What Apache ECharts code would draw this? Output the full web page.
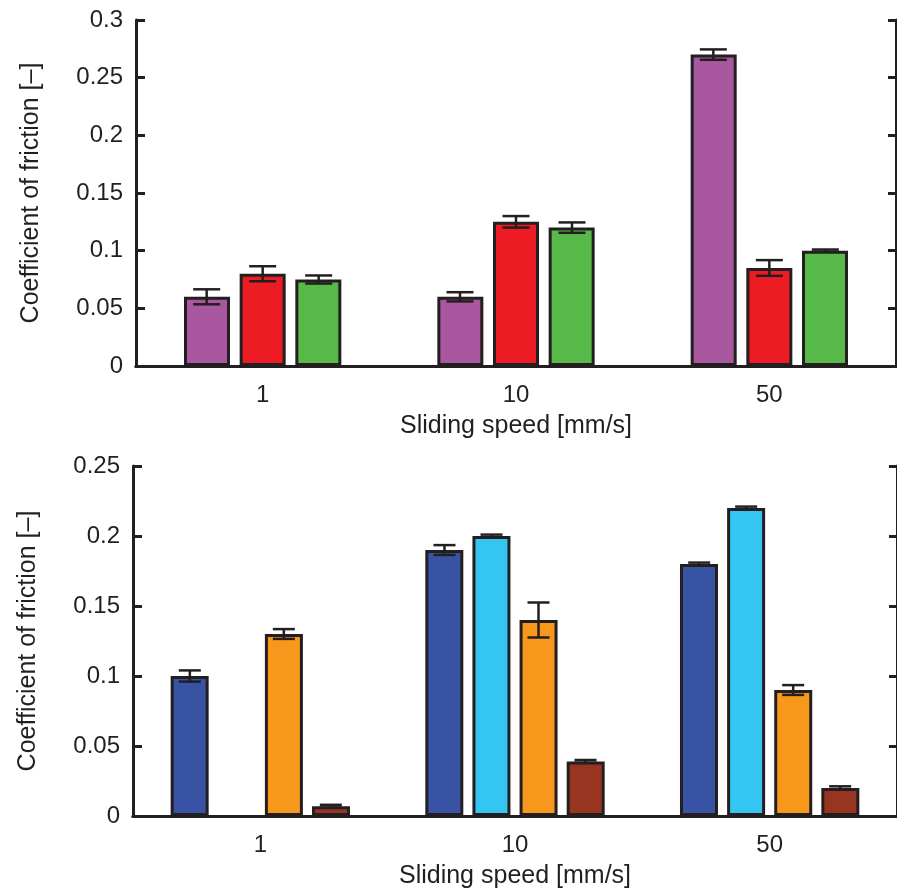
<!DOCTYPE html>
<html>
<head>
<meta charset="utf-8">
<script src="https://cdn.jsdelivr.net/npm/echarts@6/dist/echarts.min.js"></script>
<style>
  html, body { margin: 0; padding: 0; background: #fff; }
  #chart { width: 897px; height: 894px; }
</style>
</head>
<body>
<div id="chart"></div>
<script>
// speeds on the x axis, shared by both panels
const speeds = ['1', '10', '50'];

// upper panel: three materials
const topPurple = [0.06, 0.06, 0.27];
const topRed = [0.08, 0.125, 0.085];
const topGreen = [0.075, 0.12, 0.1];
const topPurpleErr = [0.0065, 0.004, 0.0045];
const topRedErr = [0.0065, 0.005, 0.0068];
const topGreenErr = [0.0035, 0.0045, 0.001];

// lower panel: four materials (light blue missing at 1 mm/s)
const lowBlue = [0.1, 0.19, 0.18];
const lowCyan = [null, 0.2, 0.22];
const lowOrange = [0.13, 0.14, 0.09];
const lowBrown = [0.007, 0.039, 0.02];
const lowBlueErr = [0.004, 0.0035, 0.001];
const lowCyanErr = [null, 0.001, 0.001];
const lowOrangeErr = [0.0035, 0.0125, 0.0035];
const lowBrownErr = [0.001, 0.001, 0.0012];

const ink = '#231f20';
const font = '"Liberation Sans", Arial, sans-serif';

function errorSeries(values, errs, slot, count, step, capHalf, axisIdx) {
  const data = [];
  values.forEach((v, i) => {
    if (v == null || errs[i] == null) return;
    data.push([i, v - errs[i], v + errs[i]]);
  });
  const offset = (slot - (count - 1) / 2) * step;
  return {
    type: 'custom',
    xAxisIndex: axisIdx,
    yAxisIndex: axisIdx,
    z: 5,
    silent: true,
    data,
    renderItem(params, api) {
      const hi = api.coord([api.value(0), api.value(2)]);
      const lo = api.coord([api.value(0), api.value(1)]);
      const x = hi[0] + offset;
      const style = { stroke: ink, lineWidth: 2.5 };
      return {
        type: 'group',
        children: [
          { type: 'line', shape: { x1: x, y1: hi[1], x2: x, y2: lo[1] }, style },
          { type: 'line', shape: { x1: x - capHalf, y1: hi[1], x2: x + capHalf, y2: hi[1] }, style },
          { type: 'line', shape: { x1: x - capHalf, y1: lo[1], x2: x + capHalf, y2: lo[1] }, style }
        ]
      };
    }
  };
}

function barSeries(values, color, axisIdx, width, gap) {
  return {
    type: 'bar',
    xAxisIndex: axisIdx,
    yAxisIndex: axisIdx,
    data: values,
    barWidth: width,
    barGap: gap,
    itemStyle: { color, borderColor: ink, borderWidth: 3 },
    silent: true
  };
}

function xAxes(gridIndex) {
  return [
    {
      type: 'category', gridIndex, data: speeds, position: 'bottom',
      axisLine: { lineStyle: { color: ink, width: 3 } },
      axisTick: { inside: true, alignWithLabel: true, length: 6, lineStyle: { color: ink, width: 2 } },
      axisLabel: { color: ink, fontSize: 24, fontFamily: font, margin: 17 },
      name: 'Sliding speed [mm/s]', nameLocation: 'middle', nameGap: 48,
      nameTextStyle: { color: ink, fontSize: 25, fontFamily: font }
    },
    {
      type: 'category', gridIndex, data: speeds, position: 'top',
      axisLine: { lineStyle: { color: ink, width: 3 } },
      axisTick: { inside: true, alignWithLabel: true, length: 8, lineStyle: { color: ink, width: 3 } },
      axisLabel: { show: false }
    }
  ];
}

function yAxes(gridIndex, max, showRightLine) {
  return [
    {
      type: 'value', gridIndex, min: 0, max, interval: 0.05, position: 'left',
      splitLine: { show: false },
      axisLine: { show: true, lineStyle: { color: ink, width: 3 } },
      axisTick: { show: true, inside: true, length: 9, lineStyle: { color: ink, width: 3 } },
      axisLabel: { color: ink, fontSize: 24, fontFamily: font, margin: 13 },
      name: 'Coefficient of friction [\u2013]', nameLocation: 'middle', nameGap: 92,
      nameTextStyle: { color: ink, fontSize: 25, fontFamily: font }
    },
    {
      type: 'value', gridIndex, min: 0, max, interval: 0.05, position: 'right',
      splitLine: { show: false },
      axisLine: { show: showRightLine, lineStyle: { color: ink, width: 3 } },
      axisTick: { show: true, inside: true, length: 8, lineStyle: { color: ink, width: 3 } },
      axisLabel: { show: false }
    }
  ];
}

const chart = echarts.init(document.getElementById('chart'), null, { renderer: 'canvas' });
chart.setOption({
  animation: false,
  backgroundColor: '#fff',
  grid: [
    { left: 136, top: 20, height: 346, right: 1 },
    { left: 133, top: 466, height: 350, right: -4 }
  ],
  xAxis: [...xAxes(0), ...xAxes(1)],
  yAxis: [...yAxes(0, 0.3, true), ...yAxes(1, 0.25, true)],
  series: [
    barSeries(topPurple, '#a9579f', 0, 46, '21%'),
    barSeries(topRed, '#ed1c24', 0, 46, '21%'),
    barSeries(topGreen, '#57b947', 0, 46, '21%'),
    errorSeries(topPurple, topPurpleErr, 0, 3, 56, 13.5, 0),
    errorSeries(topRed, topRedErr, 1, 3, 56, 13.5, 0),
    errorSeries(topGreen, topGreenErr, 2, 3, 56, 13.5, 0),
    barSeries(lowBlue, '#3953a4', 2, 38, '24%'),
    barSeries(lowCyan, '#34c6f1', 2, 38, '24%'),
    barSeries(lowOrange, '#f7981d', 2, 38, '24%'),
    barSeries(lowBrown, '#983520', 2, 38, '24%'),
    errorSeries(lowBlue, lowBlueErr, 0, 4, 47, 11, 2),
    errorSeries(lowCyan, lowCyanErr, 1, 4, 47, 11, 2),
    errorSeries(lowOrange, lowOrangeErr, 2, 4, 47, 11, 2),
    errorSeries(lowBrown, lowBrownErr, 3, 4, 47, 11, 2)
  ]
});
</script>
</body>
</html>
